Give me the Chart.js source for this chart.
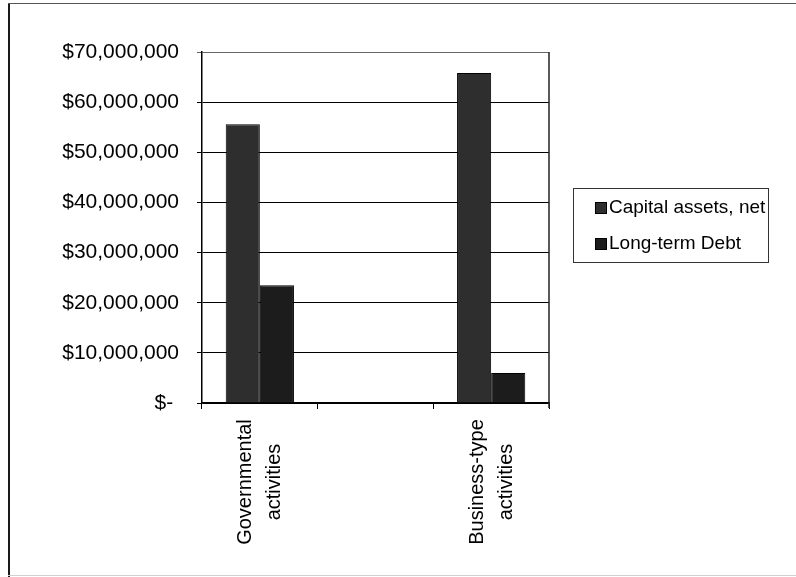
<!DOCTYPE html>
<html>
<head>
<meta charset="utf-8">
<script src="https://cdn.jsdelivr.net/npm/chart.js@4.4.0/dist/chart.umd.min.js"></script>
<style>
html, body { margin: 0; padding: 0; background: #fff; }
canvas { display: block; }
</style>
</head>
<body>
<canvas id="grafica" width="796" height="577"></canvas>
<script>
// datos
var categorias = [['Governmental', 'activities'], '', ['Business-type', 'activities']];
var capitalNeto = [55600000, null, 65800000];
var deudaLargo = [23500000, null, 6000000];
var nombresSeries = ['Capital assets, net', 'Long-term Debt'];
var coloresSeries = ['#2e2e2e', '#1c1c1c'];
var etiquetasY = ['$- ', '$10,000,000', '$20,000,000', '$30,000,000', '$40,000,000',
    '$50,000,000', '$60,000,000', '$70,000,000'];

var fuente = '"Liberation Sans", Arial, sans-serif';

var marco = {
    id: 'marco',
    beforeDraw: function(chart) {
        var c = chart.ctx;
        c.save();
        c.fillStyle = '#fff';
        c.fillRect(0, 0, chart.width, chart.height);
        c.fillStyle = '#1a1a1a';
        c.fillRect(8, 3, 2, 574);
        c.fillStyle = '#555';
        c.fillRect(8, 3, 788, 1);
        c.fillStyle = '#d0d0d0';
        c.fillRect(8, 575, 788, 1);
        c.restore();
    },
    afterDraw: function(chart) {
        var c = chart.ctx;
        var a = chart.chartArea;
        var x = chart.scales.x;
        c.save();

        // borde derecho del area
        c.strokeStyle = '#222';
        c.lineWidth = 1.5;
        c.beginPath();
        c.moveTo(a.right, a.top);
        c.lineTo(a.right, a.bottom + 5);
        c.stroke();

        // etiquetas de categorias, giradas
        c.fillStyle = '#000';
        c.font = '20px ' + fuente;
        categorias.forEach(function(cat, i) {
            if (!cat) return;
            var lineas = Array.isArray(cat) ? cat : [cat];
            var px = x.getPixelForValue(i);
            c.save();
            c.translate(px + 0.5, 482);
            c.rotate(-Math.PI / 2);
            c.textAlign = 'center';
            c.textBaseline = 'middle';
            lineas.forEach(function(t, j) {
                c.fillText(t, 0, (j - (lineas.length - 1) / 2) * 29);
            });
            c.restore();
        });

        // leyenda
        c.strokeStyle = '#333';
        c.lineWidth = 1;
        c.strokeRect(573.5, 188.5, 195, 74);
        c.font = '19px ' + fuente;
        c.textAlign = 'left';
        c.textBaseline = 'middle';
        chart.data.datasets.forEach(function(ds, i) {
            var yc = 208 + i * 36;
            c.fillStyle = ds.backgroundColor;
            c.fillRect(595, yc - 6, 12, 12);
            c.strokeStyle = '#000';
            c.strokeRect(595.5, yc - 5.5, 11, 11);
            c.fillStyle = '#000';
            c.fillText(ds.label, 609, yc);
        });
        c.restore();
    }
};

var grafica = new Chart(document.getElementById('grafica').getContext('2d'), {
    type: 'bar',
    data: {
        labels: categorias,
        datasets: [
            {
                label: nombresSeries[0],
                data: capitalNeto,
                backgroundColor: coloresSeries[0],
                borderColor: '#000',
                borderWidth: 1,
                categoryPercentage: 0.59,
                barPercentage: 1
            },
            {
                label: nombresSeries[1],
                data: deudaLargo,
                backgroundColor: coloresSeries[1],
                borderColor: '#000',
                borderWidth: 1,
                categoryPercentage: 0.59,
                barPercentage: 1
            }
        ]
    },
    options: {
        responsive: false,
        animation: false,
        devicePixelRatio: 1,
        layout: { padding: { top: 52, right: 247, bottom: 0, left: 10 } },
        plugins: {
            legend: { display: false },
            tooltip: { enabled: false }
        },
        scales: {
            x: {
                offset: true,
                grid: {
                    display: true,
                    offset: true,
                    drawOnChartArea: false,
                    color: '#000',
                    tickLength: 6
                },
                border: { color: '#000', width: 1.5 },
                ticks: { display: false },
                afterFit: function(s) { s.height = 174; }
            },
            y: {
                min: 0,
                max: 70000000,
                ticks: {
                    stepSize: 10000000,
                    color: '#000',
                    padding: 18,
                    font: { family: fuente, size: 21 },
                    callback: function(v, i) { return etiquetasY[i]; }
                },
                grid: {
                    color: function(ctx) {
                        return ctx.tick && ctx.tick.value === 70000000 ? '#666' : '#000';
                    },
                    tickLength: 5,
                    lineWidth: 1
                },
                border: { color: '#000', width: 1.5 },
                afterFit: function(s) { s.width = 192; }
            }
        }
    },
    plugins: [marco]
});
</script>
</body>
</html>
